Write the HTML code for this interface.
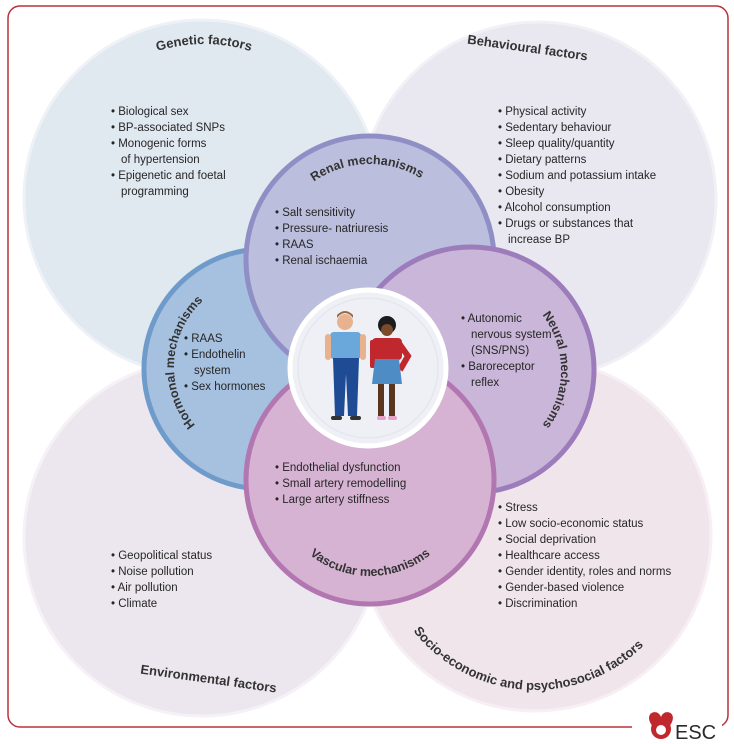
<!DOCTYPE html>
<html><head><meta charset="utf-8"><style>
html,body{margin:0;padding:0;background:#fff;}
svg{display:block;font-family:"Liberation Sans",sans-serif;}
.l{font-size:11.5px;fill:#262626;}
.h{font-size:13px;font-weight:bold;fill:#333;}
.m{font-size:12.5px;font-weight:bold;fill:#333;}
</style></head><body>
<svg width="734" height="744" viewBox="0 0 734 744" xmlns="http://www.w3.org/2000/svg">
<defs>
<path id="pGen" d="M48,200 A154,154 0 0 1 360,200"/>
<path id="pSoc" d="M380,535 A155,155 0 0 0 690,535"/>
<path id="pRen" d="M272,262 A98,98 0 0 1 468,262"/>
<path id="pHor" d="M264,457 A90,90 0 0 1 264,277"/>
<path id="pNeu" d="M471,280 A90,90 0 0 1 471,460"/>
<path id="pVas" d="M274,480 A96,96 0 0 0 466,480"/>
</defs>
<rect x="8" y="6" width="720" height="721" rx="12" fill="#fff" stroke="#b8323f" stroke-width="1.5"/>
<rect x="632" y="716" width="90" height="28" fill="#fff"/>
<circle cx="202" cy="198" r="178" fill="#dfe7f0" stroke="#eef2f7" stroke-width="3" opacity="0.95"/>
<circle cx="538" cy="200" r="178" fill="#e7e5ef" stroke="#f2f0f6" stroke-width="3" opacity="0.9"/>
<circle cx="202" cy="538" r="178" fill="#ebe5ee" stroke="#f4f0f6" stroke-width="3" opacity="0.9"/>
<circle cx="535" cy="535" r="176" fill="#f0e3eb" stroke="#f7eef3" stroke-width="3" opacity="0.9"/>
<circle cx="264" cy="369" r="120" fill="#a6c1df" stroke="#6f9bcb" stroke-width="5"/>
<circle cx="370" cy="260" r="124" fill="#bcbedd" stroke="#8f8fc6" stroke-width="5"/>
<circle cx="471" cy="370" r="123" fill="#c9b6d8" stroke="#9d7cbb" stroke-width="5"/>
<circle cx="370" cy="480" r="124" fill="#d6b3d3" stroke="#b277b1" stroke-width="5"/>
<circle cx="368" cy="368" r="78" fill="#eef0f5" stroke="#ffffff" stroke-width="5"/>
<circle cx="368" cy="368" r="70" fill="none" stroke="#dfe3ea" stroke-width="1"/>
<circle cx="345" cy="322" r="8" fill="#e9b28f"/>
<path d="M337,318 q8,-10 16,0 l0,-3 q-8,-8 -16,0z" fill="#9a6a45"/>
<rect x="330" y="332" width="31" height="27" rx="4" fill="#6aa7db"/>
<rect x="325" y="334" width="6" height="26" rx="3" fill="#e9b28f"/>
<rect x="360" y="334" width="6" height="26" rx="3" fill="#e9b28f"/>
<path d="M333,358 h26 l-2,58 h-9 l-2,-42 l-2,42 h-9z" fill="#1f4a94"/>
<rect x="331" y="416" width="11" height="4" rx="2" fill="#333"/>
<rect x="350" y="416" width="11" height="4" rx="2" fill="#333"/>
<circle cx="387" cy="325" r="9" fill="#1c1c1c"/>
<circle cx="387" cy="330" r="6" fill="#7a4a2b"/>
<rect x="372" y="338" width="30" height="22" rx="4" fill="#c0282e"/>
<path d="M398,342 l10,14 l-8,14" stroke="#c0282e" stroke-width="6" fill="none"/>
<rect x="370" y="340" width="5" height="28" rx="2" fill="#c0282e"/>
<path d="M375,359 h24 l3,25 h-30z" fill="#4d8cc4"/>
<rect x="378" y="384" width="6" height="32" fill="#5a3520"/>
<rect x="389" y="384" width="6" height="32" fill="#5a3520"/>
<rect x="377" y="416" width="9" height="4" rx="2" fill="#e7a0c8"/>
<rect x="388" y="416" width="9" height="4" rx="2" fill="#e7a0c8"/>
<text class="h" font-size="14"><textPath href="#pGen" startOffset="50%" text-anchor="middle">Genetic factors</textPath></text>
<text class="h" transform="translate(527,52) rotate(8)" text-anchor="middle">Behavioural factors</text>
<text class="h" transform="translate(208,683) rotate(8)" text-anchor="middle">Environmental factors</text>
<text class="h"><textPath href="#pSoc" startOffset="48%" text-anchor="middle">Socio-economic and psychosocial factors</textPath></text>
<text class="m"><textPath href="#pRen" startOffset="49%" text-anchor="middle">Renal mechanisms</textPath></text>
<text class="m"><textPath href="#pHor" startOffset="52%" text-anchor="middle">Hormonal mechanisms</textPath></text>
<text class="m"><textPath href="#pNeu" startOffset="50%" text-anchor="middle">Neural mechanisms</textPath></text>
<text class="m"><textPath href="#pVas" startOffset="50%" text-anchor="middle">Vascular mechanisms</textPath></text>
<g class="l">
<text x="111" y="115">• Biological sex</text>
<text x="111" y="131">• BP-associated SNPs</text>
<text x="111" y="147">• Monogenic forms</text>
<text x="121" y="163">of hypertension</text>
<text x="111" y="179">• Epigenetic and foetal</text>
<text x="121" y="195">programming</text>
<text x="498" y="115">• Physical activity</text>
<text x="498" y="131">• Sedentary behaviour</text>
<text x="498" y="147">• Sleep quality/quantity</text>
<text x="498" y="163">• Dietary patterns</text>
<text x="498" y="179">• Sodium and potassium intake</text>
<text x="498" y="195">• Obesity</text>
<text x="498" y="211">• Alcohol consumption</text>
<text x="498" y="227">• Drugs or substances that</text>
<text x="508" y="243">increase BP</text>
<text x="275" y="216">• Salt sensitivity</text>
<text x="275" y="232">• Pressure- natriuresis</text>
<text x="275" y="248">• RAAS</text>
<text x="275" y="264">• Renal ischaemia</text>
<text x="184" y="342">• RAAS</text>
<text x="184" y="358">• Endothelin</text>
<text x="194" y="374">system</text>
<text x="184" y="390">• Sex hormones</text>
<text x="461" y="322">• Autonomic</text>
<text x="471" y="338">nervous system</text>
<text x="471" y="354">(SNS/PNS)</text>
<text x="461" y="370">• Baroreceptor</text>
<text x="471" y="386">reflex</text>
<text x="275" y="471">• Endothelial dysfunction</text>
<text x="275" y="487">• Small artery remodelling</text>
<text x="275" y="503">• Large artery stiffness</text>
<text x="498" y="511">• Stress</text>
<text x="498" y="527">• Low socio-economic status</text>
<text x="498" y="543">• Social deprivation</text>
<text x="498" y="559">• Healthcare access</text>
<text x="498" y="575">• Gender identity, roles and norms</text>
<text x="498" y="591">• Gender-based violence</text>
<text x="498" y="607">• Discrimination</text>
<text x="111" y="559">• Geopolitical status</text>
<text x="111" y="575">• Noise pollution</text>
<text x="111" y="591">• Air pollution</text>
<text x="111" y="607">• Climate</text>
</g>
<path d="M651,724 c-7,-12 7,-16 10,-7 c3,-9 17,-5 10,7 l-10,14z" fill="#c0282e"/>
<circle cx="661" cy="729" r="10" fill="#c0282e"/>
<circle cx="661" cy="730" r="5" fill="#fff"/>
<text x="675" y="739" font-size="20" fill="#2a2a2a">ESC</text>
</svg>
</body></html>
